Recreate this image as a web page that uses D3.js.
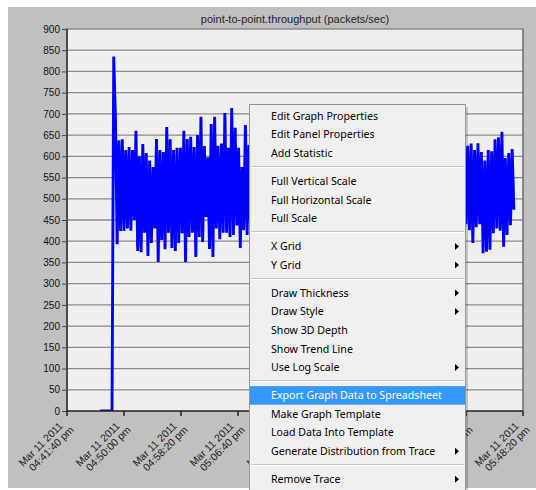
<!DOCTYPE html>
<html><head><meta charset="utf-8">
<script src="https://cdn.jsdelivr.net/npm/d3@7"></script>
<style>body{margin:0;background:#fff}svg{display:block}</style>
</head><body>
<svg id="c" width="536" height="490"></svg>
<script>
// ---------- data ----------
const chartTitle = "point-to-point.throughput (packets/sec)";
const yTicks = [0,50,100,150,200,250,300,350,400,450,500,550,600,650,700,750,800,850,900];
const xTickDates = ["2011-03-11 16:41:40","2011-03-11 16:50:00","2011-03-11 16:58:20","2011-03-11 17:06:40","2011-03-11 17:15:00","2011-03-11 17:23:20","2011-03-11 17:31:40","2011-03-11 17:40:00","2011-03-11 17:48:20"];
const xTickDayLabel = "Mar 11 2011";
const xTickTimeLabels = ["04:41:40 pm","04:50:00 pm","04:58:20 pm","05:06:40 pm","05:15:00 pm","05:23:20 pm","05:31:40 pm","05:40:00 pm","05:48:20 pm"];
const seriesStart = "2011-03-11 16:46:30";
const seriesStepSeconds = 15;
const throughput = [
0,0,0,0,0,0,0,0,
835,690,393,638,424,640,424,615,430,622,425,615,450,660,377,600,374,629,420,608,365,590,396,575,430,641,351,615,403,610,381,669,420,640,384,615,377,620,396,620,419,660,351,641,410,646,420,622,363,650,410,693,398,624,457,598,382,676,363,693,430,625,405,630,420,702,420,620,410,714,415,667,437,620,384,575,426,674,415,627,430,
620,410,650,395,600,440,680,380,610,420,640,370,590,430,660,400,615,445,700,390,625,410,645,360,600,425,670,395,630,440,655,385,605,415,690,400,620,430,640,375,595,420,665,405,610,450,685,390,630,410,650,365,600,435,675,400,620,425,645,380,610,440,695,395,625,415,660,370,590,430,670,405,615,445,680,385,635,420,650,360,605,430,665,400,620,440,700,390,630,410,645,375,600,425,675,395,615,435,655,380,610,420,690,400,625,445,660,370,595,430,670,405,620,440,685,390,635,415,650,365,605,430,665,400,620,
440,625,426,630,396,615,433,631,440,610,372,590,375,615,380,612,419,640,430,645,425,658,387,596,415,608,438,617,474
];
const menuItems = [
 {t:"Edit Graph Properties"},{t:"Edit Panel Properties"},{t:"Add Statistic"},{sep:true},
 {t:"Full Vertical Scale"},{t:"Full Horizontal Scale"},{t:"Full Scale"},{sep:true},
 {t:"X Grid",sub:true},{t:"Y Grid",sub:true},{sep:true},
 {t:"Draw Thickness",sub:true},{t:"Draw Style",sub:true},{t:"Show 3D Depth"},{t:"Show Trend Line"},{t:"Use Log Scale",sub:true},{sep:true},
 {t:"Export Graph Data to Spreadsheet",hl:true},{t:"Make Graph Template"},{t:"Load Data Into Template"},{t:"Generate Distribution from Trace",sub:true},{sep:true},
 {t:"Remove Trace",sub:true}
];

// ---------- drawing ----------
const parse = d3.timeParse("%Y-%m-%d %H:%M:%S");
const tickDates = xTickDates.map(parse);
const t0 = parse(seriesStart);
const series = throughput.map((v,i)=>({t:new Date(t0.getTime()+i*seriesStepSeconds*1000), v}));

const P = {l:67, r:523, t:29, b:411};
const svg = d3.select("#c");
const AX = "'Liberation Sans', Arial, sans-serif";

svg.append("rect").attr("x",8).attr("y",7).attr("width",528).attr("height",481).attr("fill","#c0c0c0");
svg.append("rect").attr("x",P.l).attr("y",P.t).attr("width",P.r-P.l).attr("height",P.b-P.t).attr("fill","#efefef");

const x = d3.scaleTime().domain([tickDates[0], tickDates[tickDates.length-1]]).range([P.l,P.r]);
const y = d3.scaleLinear().domain([0,900]).range([P.b,P.t]);

// grid
svg.append("g").selectAll("line").data(yTicks.filter(d=>d>0)).join("line")
  .attr("x1",P.l).attr("x2",P.r).attr("y1",d=>y(d)).attr("y2",d=>y(d))
  .attr("stroke","#8a8a8a").attr("stroke-width",1.3);

// right border
svg.append("line").attr("x1",P.r).attr("x2",P.r).attr("y1",P.t).attr("y2",P.b).attr("stroke","#6a6a6a").attr("stroke-width",1.5);

// y axis
const ya = svg.append("g").attr("transform",`translate(${P.l},0)`)
  .call(d3.axisLeft(y).tickValues(yTicks).tickSize(5).tickPadding(2));
ya.select(".domain").remove();
ya.selectAll(".tick line").attr("stroke","#444");
ya.selectAll(".tick text").attr("font-family",AX).attr("font-size",10).attr("fill","#111");

// series
const clipId="pc";
svg.append("clipPath").attr("id",clipId).append("rect").attr("x",P.l).attr("y",P.t-2).attr("width",P.r-P.l).attr("height",P.b-P.t+2);
svg.append("path").datum(series)
  .attr("clip-path",`url(#${clipId})`)
  .attr("d", d3.line().x(d=>x(d.t)).y(d=>y(d.v)))
  .attr("fill","none").attr("stroke","#0000ff").attr("stroke-width",2.9).attr("stroke-linejoin","miter").attr("stroke-miterlimit",3);

// axes lines
svg.append("line").attr("x1",P.l).attr("x2",P.l).attr("y1",P.t-0.5).attr("y2",P.b+1).attr("stroke","#4a4a4a").attr("stroke-width",2);
svg.append("line").attr("x1",P.l).attr("x2",P.r).attr("y1",P.b).attr("y2",P.b).attr("stroke","#222").attr("stroke-width",1.5);

// x ticks & labels
const xg = svg.append("g").selectAll("g").data(tickDates).join("g");
xg.append("line").attr("x1",d=>x(d)).attr("x2",d=>x(d)).attr("y1",P.b).attr("y2",P.b+5).attr("stroke","#222").attr("stroke-width",1.5);
const lab = xg.append("g").attr("transform",d=>`translate(${x(d)-3.5},${P.b+15.5}) rotate(-45)`)
  .attr("font-family",AX).attr("font-size",10.5).attr("fill","#222").attr("text-anchor","end");
lab.append("text").attr("x",0).attr("y",0).text(xTickDayLabel);
lab.append("text").attr("x",5).attr("y",10.6).text((d,i)=>xTickTimeLabels[i]);

// title
svg.append("text").attr("x",(P.l+P.r)/2).attr("y",23).attr("text-anchor","middle")
  .attr("font-family",AX).attr("font-size",11).attr("fill","#222").text(chartTitle);

// ---------- context menu ----------
const M = {x:249, y:104, w:217, h:400, itemH:18.6, sepH:9.4, firstTop:106.7};
const mg = svg.append("g");
mg.append("rect").attr("x",M.x+M.w).attr("y",M.y+3).attr("width",2).attr("height",M.h).attr("fill","#000").attr("opacity",0.18);
mg.append("rect").attr("x",M.x+0.5).attr("y",M.y+0.5).attr("width",M.w-1).attr("height",M.h).attr("fill","#f0f0f0").attr("stroke","#979797");
const MF = "'Noto Sans', 'Open Sans', sans-serif";
const probe = mg.append("text").attr("font-family",MF).attr("font-size",12).text("Export Graph Data to Spreadsheet");
const fs = 12*171/probe.node().getComputedTextLength();
probe.remove();
let cy = M.firstTop;
menuItems.forEach(it=>{
  if(it.sep){
    const sy = Math.round(cy + M.sepH/2)-0.5;
    mg.append("line").attr("x1",M.x+2).attr("x2",M.x+M.w-2).attr("y1",sy).attr("y2",sy).attr("stroke","#c4c4c4");
    mg.append("line").attr("x1",M.x+2).attr("x2",M.x+M.w-2).attr("y1",sy+1).attr("y2",sy+1).attr("stroke","#ffffff");
    cy += M.sepH; return;
  }
  const mid = cy + M.itemH/2;
  if(it.hl){
    mg.append("rect").attr("x",M.x+1).attr("y",cy).attr("width",M.w-2).attr("height",M.itemH).attr("fill","#3399ff");
  }
  mg.append("text").attr("x",271).attr("y",mid).attr("dy","0.36em")
    .attr("font-family",MF).attr("font-size",fs).attr("fill",it.hl?"#ffffff":"#000").text(it.t);
  if(it.sub){
    mg.append("path").attr("d",`M455,${mid-3.5}L459,${mid}L455,${mid+3.5}Z`).attr("fill","#000");
  }
  cy += M.itemH;
});
</script>
</body></html>
